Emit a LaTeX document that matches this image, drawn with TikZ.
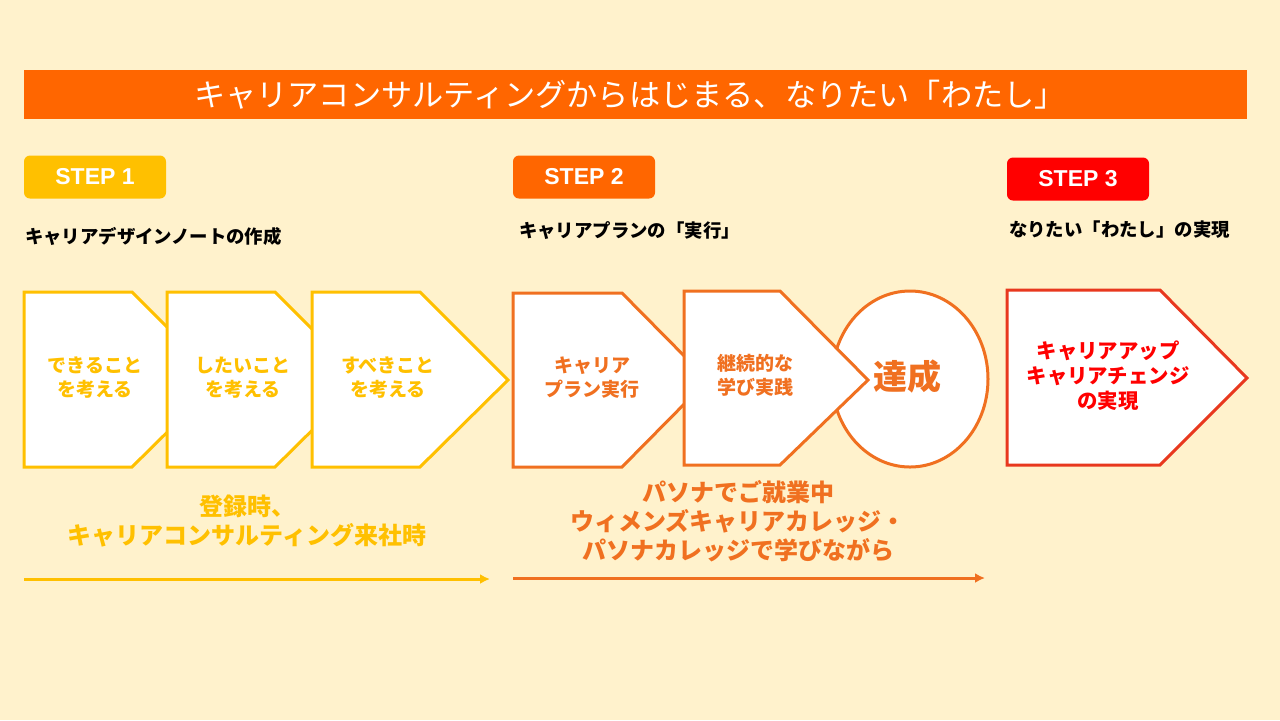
\documentclass[tikz,border=0pt]{standalone}
\usepackage{fontspec}
\usetikzlibrary{arrows.meta}
\setmainfont{Noto Sans CJK JP}
\newfontfamily\lat{Liberation Sans}
\begin{document}
\begin{tikzpicture}[x=0.5pt,y=-0.5pt,
  pent/.style={fill=white,line width=1.5pt},
  lbl/.style={font=\bfseries\fontsize{9.5}{12}\selectfont,align=center},
  sub/.style={font=\bfseries\fontsize{9.2}{10}\selectfont,anchor=west},
  stepbox/.style={rounded corners=3pt,minimum width=71pt,minimum height=21.5pt,inner sep=0pt,text=white,font=\lat\bfseries\fontsize{11.5}{12}\selectfont}]
\definecolor{bg}{HTML}{FFF2CC}
\definecolor{yel}{HTML}{FFC000}
\definecolor{org}{HTML}{FF6600}
\definecolor{org2}{HTML}{F07020}
\definecolor{redd}{HTML}{FF0000}
\definecolor{red2}{HTML}{E8381E}
\fill[bg] (0,0) rectangle (1280,720);
\useasboundingbox (0,0) rectangle (1280,720);
\fill[org] (24,70) rectangle (1247,119);
\node[text=white,font=\fontsize{15.6}{18}\selectfont] (title) at (630,95) {キャリアコンサルティングからはじまる、なりたい「わたし」};
\node[stepbox,fill=yel] (s1) at (95,177) {STEP 1};
\node[stepbox,fill=org] (s2) at (584,177) {STEP 2};
\node[stepbox,fill=redd] (s3) at (1078,179) {STEP 3};
\node[sub] (t1) at (18,236) {キャリアデザインノートの作成};
\node[sub] (t2) at (512,231) {キャリアプランの「実行」};
\node[sub] (t3) at (1002,230) {なりたい「わたし」の実現};
% step1
\foreach \a in {24,167,312}{
 \draw[pent,draw=yel] (\a,292) -- (\a+108,292) -- (\a+196,380) -- (\a+108,467) -- (\a,467) -- cycle;}
\node[lbl,text=yel] (a1) at (95,378) {できること\\を考える};
\node[lbl,text=yel] (a2) at (243,378) {したいこと\\を考える};
\node[lbl,text=yel] (a3) at (388,378) {すべきこと\\を考える};
% step2
\draw[pent,draw=org2] (910,379) ellipse [x radius=78,y radius=88];
\draw[pent,draw=org2] (513,293) -- (622,293) -- (708,380) -- (622,467) -- (513,467) -- cycle;
\draw[pent,draw=org2] (684,291) -- (780,291) -- (868,380) -- (780,465) -- (684,465) -- cycle;
\node[lbl,text=org2] (b1) at (592,378) {キャリア\\プラン実行};
\node[lbl,text=org2] (b2) at (755,375) {継続的な\\学び実践};
\node[text=org2,font=\bfseries\fontsize{17}{20}\selectfont] (b3) at (907,377) {達成};
% step3
\draw[pent,draw=red2] (1007,290) -- (1160,290) -- (1247,378) -- (1160,465) -- (1007,465) -- cycle;
\node[lbl,text=redd,font=\bfseries\fontsize{10.2}{12.5}\selectfont] (c1) at (1108,376) {キャリアアップ\\キャリアチェンジ\\の実現};
% bottom
\node[text=yel,font=\bfseries\fontsize{12}{14.5}\selectfont,align=center] (d1) at (247,521) {登録時、\\キャリアコンサルティング来社時};
\node[text=org2,font=\bfseries\fontsize{12}{14.5}\selectfont,align=center] (d2) at (738,521) {パソナでご就業中\\ウィメンズキャリアカレッジ・\\パソナカレッジで学びながら};
\coordinate (e1) at (24,579); \coordinate (e2) at (490,579);
\coordinate (f1) at (513,578); \coordinate (f2) at (985,578);
\draw[yel,line width=1.5pt,-{Latex[length=5pt,width=5pt]}] (e1) -- (e2);
\draw[org2,line width=1.5pt,-{Latex[length=5pt,width=5pt]}] (f1) -- (f2);
\end{tikzpicture}
\end{document}
